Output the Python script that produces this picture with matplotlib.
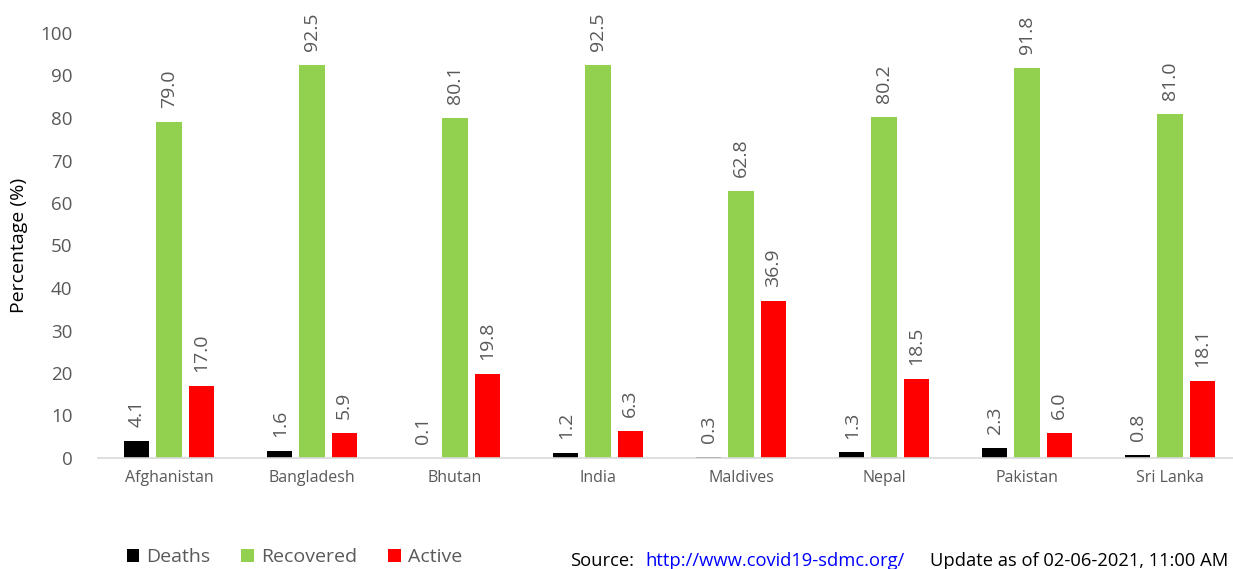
import numpy as np
import matplotlib
matplotlib.use("Agg")
import matplotlib.pyplot as plt

plt.rcParams["font.family"] = ["Open Sans", "DejaVu Sans"]

countries = ["Afghanistan", "Bangladesh", "Bhutan", "India", "Maldives",
             "Nepal", "Pakistan", "Sri Lanka"]
deaths = [4.1, 1.6, 0.1, 1.2, 0.3, 1.3, 2.3, 0.8]
recovered = [79.0, 92.5, 80.1, 92.5, 62.8, 80.2, 91.8, 81.0]
active = [17.0, 5.9, 19.8, 6.3, 36.9, 18.5, 6.0, 18.1]

series = [("Deaths", deaths, "#000000"),
          ("Recovered", recovered, "#92D050"),
          ("Active", active, "#FF0000")]

W, H = 1233, 569
fig = plt.figure(figsize=(W / 100, H / 100), dpi=100)
ax = fig.add_axes([97.5 / W, 1 - 458 / H, 1 - 97.5 / W, (458 - 33) / H])

x = np.arange(len(countries))
off = 0.224
bw = 0.175
grey = "#595959"
handles = []
for i, (name, vals, col) in enumerate(series):
    xs = x + (i - 1) * off
    bars = ax.bar(xs, vals, width=bw, color=col, label=name)
    handles.append(bars)
    for xi, v in zip(xs, vals):
        ax.annotate(f"{v:.1f}", (xi, v), xytext=(0, 10), textcoords="offset points",
                    rotation=90, ha="center", va="bottom", fontsize=14, color=grey)

ax.set_xlim(-0.5, (W - 97.5) / 143 - 0.5)
ax.set_ylim(0, 100)
ax.set_yticks(range(0, 101, 10))
ax.set_xticks(x)
ax.set_xticklabels(countries, fontsize=11.5, color=grey)
ax.tick_params(axis="y", labelsize=13.5, labelcolor=grey, length=0, pad=18)
ax.tick_params(axis="x", length=0, pad=9)
for s in ["top", "right", "left"]:
    ax.spines[s].set_visible(False)
ax.spines["bottom"].set_color("#D9D9D9")
ax.spines["bottom"].set_linewidth(1.2)
ax.set_ylabel("Percentage (%)", fontsize=14, color="black", labelpad=9)

fig.legend(handles=handles, labels=[s[0] for s in series], loc="center left",
           bbox_to_anchor=(117 / W, 1 - 557 / H), ncol=3, frameon=False,
           fontsize=14, handlelength=0.65, handleheight=0.65, handletextpad=0.35,
           columnspacing=1.6, labelcolor=grey, borderpad=0)

fy = 1 - 561 / H
fig.text(570 / W, fy, "Source:", fontsize=13.2, va="center", ha="left")
fig.text(645 / W, fy, "http://www.covid19-sdmc.org/", fontsize=13.2,
         va="center", ha="left", color="#0000FF")
fig.text(1228 / W, fy, "Update as of 02-06-2021, 11:00 AM", fontsize=13.2,
         va="center", ha="right")

fig.savefig("out.png", dpi=100)
